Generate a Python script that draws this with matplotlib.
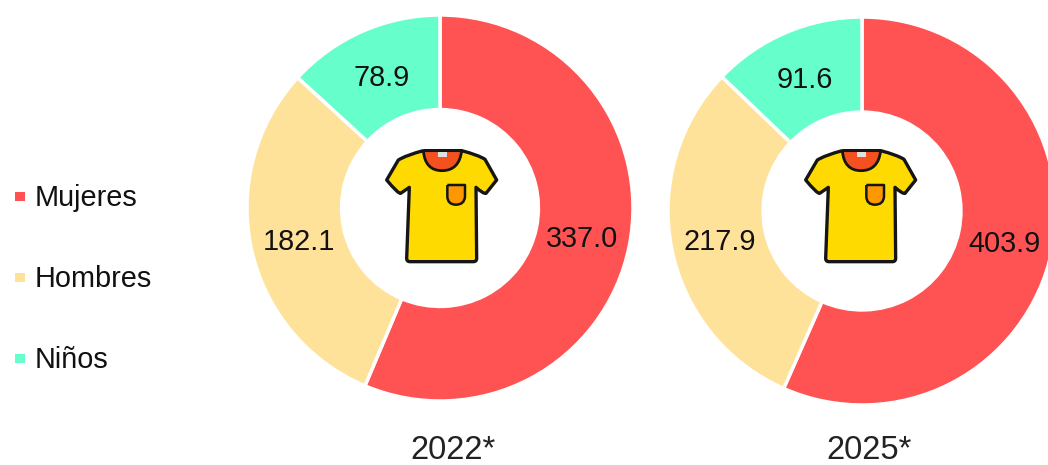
import math
import matplotlib
matplotlib.use("Agg")
import matplotlib.pyplot as plt
from matplotlib.patches import PathPatch, Rectangle
from matplotlib.path import Path

plt.rcParams['font.family'] = ['Liberation Sans', 'DejaVu Sans']

categories = ["Mujeres", "Hombres", "Niños"]
values_2022 = [337.0, 182.1, 78.9]
values_2025 = [403.9, 217.9, 91.6]
years = ["2022*", "2025*"]
colors = ["#FF5353", "#FFE29A", "#66FFCC"]

W, H = 1048, 465
fig = plt.figure(figsize=(W / 100, H / 100), dpi=100)


def pie_axes(cx, cy, r):
    return fig.add_axes([(cx - r) / W, 1 - (cy + r) / H, 2 * r / W, 2 * r / H])


def donut(ax, values, hole, label_r):
    wedges, _ = ax.pie(values, colors=colors, startangle=90, counterclock=False,
                       radius=1.0, wedgeprops=dict(width=1 - hole, edgecolor="white", linewidth=2.5))
    ax.set_xlim(-1, 1)
    ax.set_ylim(-1, 1)
    ax.set_aspect("equal")
    ax.axis("off")
    for w, v in zip(wedges, values):
        a = math.radians((w.theta1 + w.theta2) / 2)
        ax.annotate(f"{v:.1f}", (label_r * math.cos(a), label_r * math.sin(a)),
                    xytext=(0, -2), textcoords="offset points",
                    ha="center", va="center", fontsize=20.8, color="#111111", annotation_clip=False)


ax1 = pie_axes(440, 208, 193)
donut(ax1, values_2022, 0.51, 0.75)
ax2 = pie_axes(862, 211, 194)
donut(ax2, values_2025, 0.51, 0.75)

ov = fig.add_axes([0, 0, 1, 1], zorder=5)
ov.set_xlim(0, W)
ov.set_ylim(H, 0)
ov.axis("off")
ov.patch.set_alpha(0)


def shirt(dx, dy):
    def P(x, y):
        return (370 + x / 3 + dx, 130 + y / 3 + dy)
    M, L, C = Path.MOVETO, Path.LINETO, Path.CURVE3

    def patch(steps, **kw):
        pts = [P(*s[1:]) for s in steps]
        codes = [s[0] for s in steps]
        ov.add_patch(PathPatch(Path(pts, codes), joinstyle="round", **kw))

    body = [(M, 160, 62), (L, 275, 62), (C, 325, 75), (L, 345, 88), (L, 380, 150),
            (L, 348, 190), (C, 340, 192), (L, 318, 172), (L, 320, 385), (C, 320, 395),
            (L, 310, 395), (L, 120, 395), (C, 110, 395), (L, 110, 385), (L, 118, 172),
            (L, 92, 190), (C, 85, 192), (L, 50, 150), (L, 85, 90), (C, 110, 75), (L, 160, 62)]
    patch(body, fc="#FFDA00", ec="#151515", lw=2.4)
    collar = [(M, 160, 62), (L, 275, 62), (C, 268, 122), (L, 216, 122), (C, 165, 122), (L, 160, 62)]
    patch(collar, fc="#F4511E", ec="#151515", lw=2.0)
    tag = [(M, 203, 65), (L, 230, 65), (L, 230, 80), (L, 203, 80), (L, 203, 65)]
    patch(tag, fc="#E0E0E0", ec="none")
    pocket = [(M, 232, 165), (L, 285, 165), (L, 285, 200), (C, 283, 224), (L, 258, 224),
              (C, 233, 224), (L, 232, 200), (L, 232, 165)]
    patch(pocket, fc="#FF9800", ec="#151515", lw=1.8)


shirt(0, 0)
shirt(419, 0)

for name, c, y in zip(categories, colors, [196, 277, 358]):
    ov.add_patch(Rectangle((15, y - 4), 10, 9, fc=c, ec="none"))
    ov.text(35, y + 2, name, ha="left", va="center", fontsize=20.8, color="#111111")

ov.text(453, 450.5, years[0], ha="center", va="center", fontsize=23.5, color="#222222")
ov.text(869, 450, years[1], ha="center", va="center", fontsize=23.5, color="#222222")

fig.savefig("out.png", dpi=100)
